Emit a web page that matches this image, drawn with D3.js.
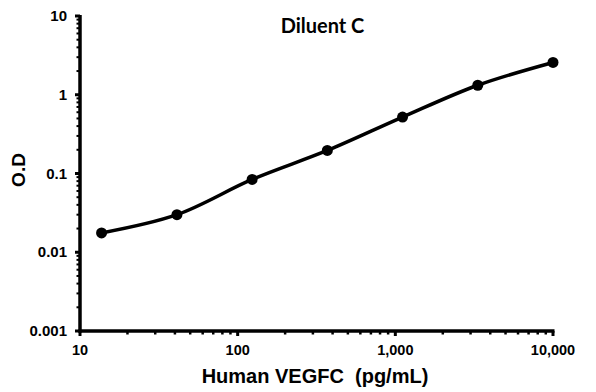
<!DOCTYPE html>
<html>
<head>
<meta charset="utf-8">
<script src="https://cdn.jsdelivr.net/npm/d3@7"></script>
<style>
  body { margin: 0; background: #fff; }
  text { font-family: "Liberation Sans", Arial, sans-serif; font-weight: bold; fill: #000; }
</style>
</head>
<body>
<svg width="596" height="392"></svg>
<script>
const concentrations = [13.7, 41.2, 123.5, 370.4, 1111, 3333, 10000];
const odValues = [0.0176, 0.030, 0.084, 0.196, 0.52, 1.32, 2.57];
const xTickValues = [10, 100, 1000, 10000];
const xTickLabels = ["10", "100", "1,000", "10,000"];
const yTickValues = [0.001, 0.01, 0.1, 1, 10];
const yTickLabels = ["0.001", "0.01", "0.1", "1", "10"];

const svg = d3.select("svg");
const x = d3.scaleLog().domain([10, 10000]).range([80, 553]);
const y = d3.scaleLog().domain([0.001, 10]).range([331, 16]);

// minor ticks
const xMinor = x.ticks().filter(d => !xTickValues.includes(d));
const yMinor = y.ticks().filter(d => !yTickValues.some(v => Math.abs(v - d) / v < 1e-6));

svg.append("g").selectAll("line").data(xMinor).enter().append("line")
  .attr("x1", d => x(d)).attr("x2", d => x(d))
  .attr("y1", 331).attr("y2", 334.5)
  .attr("stroke", "#000").attr("stroke-width", 2.5);
svg.append("g").selectAll("line").data(yMinor).enter().append("line")
  .attr("x1", 76.5).attr("x2", 80)
  .attr("y1", d => y(d)).attr("y2", d => y(d))
  .attr("stroke", "#000").attr("stroke-width", 2);

// major ticks
svg.append("g").selectAll("line").data(xTickValues).enter().append("line")
  .attr("x1", d => x(d)).attr("x2", d => x(d))
  .attr("y1", 331).attr("y2", 336)
  .attr("stroke", "#000").attr("stroke-width", 3);
svg.append("g").selectAll("line").data(yTickValues).enter().append("line")
  .attr("x1", 75).attr("x2", 80)
  .attr("y1", d => y(d)).attr("y2", d => y(d))
  .attr("stroke", "#000").attr("stroke-width", 3);

// axis lines
svg.append("line").attr("x1", 80).attr("x2", 80).attr("y1", 15).attr("y2", 332.5)
  .attr("stroke", "#000").attr("stroke-width", 3.5);
svg.append("line").attr("x1", 78.5).attr("x2", 554.5).attr("y1", 331).attr("y2", 331)
  .attr("stroke", "#000").attr("stroke-width", 3.5);

// tick labels
svg.append("g").selectAll("text").data(xTickValues).enter().append("text")
  .attr("x", d => x(d)).attr("y", 355)
  .attr("text-anchor", "middle").attr("font-size", 14.5)
  .text((d, i) => xTickLabels[i]);
svg.append("g").selectAll("text").data(yTickValues).enter().append("text")
  .attr("x", 67).attr("y", d => y(d) + 5)
  .attr("text-anchor", "end").attr("font-size", 15)
  .text((d, i) => yTickLabels[i]);

// data
const pts = concentrations.map((c, i) => [x(c), y(odValues[i])]);
svg.append("path")
  .attr("d", d3.line().curve(d3.curveCatmullRom.alpha(0.5))(pts))
  .attr("fill", "none").attr("stroke", "#000").attr("stroke-width", 3.5);
svg.append("g").selectAll("circle").data(pts).enter().append("circle")
  .attr("cx", d => d[0]).attr("cy", d => d[1]).attr("r", 5.5).attr("fill", "#000");

// titles
svg.append("text").attr("x", 322.5).attr("y", 33).attr("text-anchor", "middle")
  .style("font-family", "Lato, 'Liberation Sans', sans-serif")
  .attr("font-size", 20).text("Diluent C");
svg.append("text").attr("x", 315).attr("y", 383).attr("text-anchor", "middle")
  .attr("font-size", 20).attr("xml:space", "preserve").text("Human VEGFC  (pg/mL)");
svg.append("text").attr("transform", "translate(25,170) rotate(-90)")
  .attr("text-anchor", "middle").attr("font-size", 19).text("O.D");
</script>
</body>
</html>
